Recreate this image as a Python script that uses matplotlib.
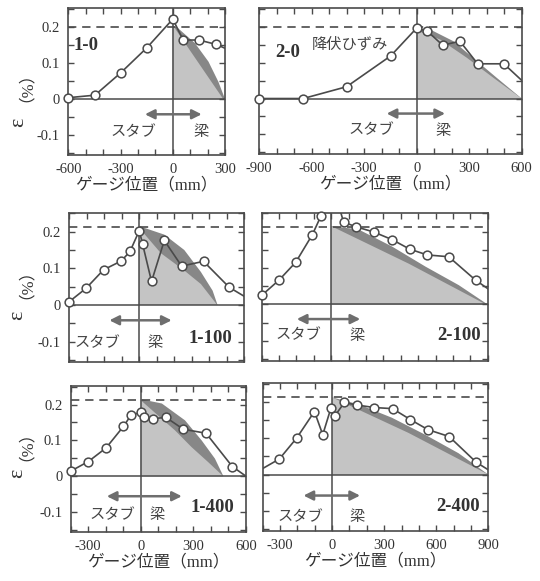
import matplotlib
matplotlib.use('Agg')
import matplotlib.pyplot as plt
from matplotlib.ticker import MultipleLocator, FixedLocator

plt.rcParams['font.family'] = ['Liberation Serif', 'Noto Sans CJK JP']
plt.rcParams['axes.unicode_minus'] = False

# gauge position (mm) and strain (%) for each specimen
pos_1_0 = [-600, -447, -299, -150, 0, 60, 150, 248, 330]
eps_1_0 = [0.004, 0.011, 0.073, 0.142, 0.222, 0.164, 0.164, 0.152, 0.135]

pos_2_0 = [-900, -649, -401, -149, 0, 61, 148, 247, 348, 498, 650]
eps_2_0 = [0.0, 0.0, 0.033, 0.119, 0.197, 0.188, 0.149, 0.16, 0.097, 0.097, 0.028]

pos_1_100 = [-400, -305, -204, -103, -53, 0, 19, 70, 143, 242, 367, 514, 640]
eps_1_100 = [0.009, 0.045, 0.096, 0.12, 0.146, 0.203, 0.166, 0.064, 0.176, 0.106, 0.119, 0.048, 0.012]

pos_2_100 = [-400, -300, -204, -108, -58, 20, 71, 144, 244, 350, 451, 552, 676, 830, 950]
eps_2_100 = [0.025, 0.067, 0.116, 0.192, 0.244, 0.31, 0.226, 0.213, 0.199, 0.178, 0.152, 0.136, 0.131, 0.067, 0.027]

pos_1_400 = [-400, -299, -198, -99, -55, 0, 19, 72, 144, 243, 372, 522, 640]
eps_1_400 = [0.014, 0.041, 0.079, 0.139, 0.171, 0.178, 0.165, 0.161, 0.164, 0.131, 0.12, 0.027, -0.014]

pos_2_400 = [-450, -304, -204, -102, -54, -6, 17, 71, 142, 244, 348, 450, 552, 674, 830, 950]
eps_2_400 = [0.003, 0.043, 0.101, 0.174, 0.11, 0.185, 0.163, 0.199, 0.192, 0.185, 0.182, 0.152, 0.124, 0.105, 0.034, -0.002]

# shaded regions in the beam (light = linear, dark = upper envelope)
light_x_1_0, light_y_1_0 = [0, 290], [0.205, 0.0]
dark_x_1_0, dark_y_1_0 = [0, 32, 128, 205, 262, 300], [0.205, 0.196, 0.155, 0.104, 0.048, 0.0]
light_x_2_0, light_y_2_0 = [0, 133, 286, 438, 600], [0.19, 0.165, 0.114, 0.058, 0.0]
dark_x_2_0, dark_y_2_0 = [0, 76, 210, 343, 457, 600], [0.195, 0.193, 0.16, 0.105, 0.058, 0.0]
light_x_1_100, light_y_1_100 = [0, 124, 257, 352, 445], [0.21, 0.141, 0.094, 0.057, 0.0]
dark_x_1_100, dark_y_1_100 = [0, 143, 257, 352, 419, 447], [0.215, 0.192, 0.15, 0.09, 0.039, 0.0]
light_x_2_100, light_y_2_100 = [0, 446, 890], [0.215, 0.112, 0.0]
dark_x_2_100, dark_y_2_100 = [0, 157, 350, 542, 734, 900], [0.215, 0.206, 0.159, 0.104, 0.053, 0.0]
light_x_1_400, light_y_1_400 = [0, 195, 290, 385, 470], [0.212, 0.128, 0.081, 0.039, 0.0]
dark_x_1_400, dark_y_1_400 = [0, 120, 252, 347, 423, 471], [0.215, 0.203, 0.156, 0.1, 0.049, 0.0]
light_x_2_400, light_y_2_400 = [0, 440, 900], [0.213, 0.115, 0.0]
dark_x_2_400, dark_y_2_400 = [0, 152, 344, 536, 728, 900], [0.213, 0.194, 0.157, 0.11, 0.059, 0.0]

yield_top = 0.2
yield_low = 0.213

ink = '#4a4a4a'
light_col = '#c4c4c4'
dark_col = '#878787'
arrow_col = '#6e6e6e'

fig = plt.figure(figsize=(5.4, 5.81), dpi=100)
YLIM = (-0.155, 0.252)


def panel(rect, xlim, pos, eps, lx, ly, dx, dy, yld, xticks, xlabels=True, ylabels=True):
    ax = fig.add_axes(rect)
    ax.fill(dx + [0], dy + [0], color=dark_col, lw=0, zorder=1)
    ax.fill(lx + [0], ly + [0], color=light_col, lw=0, zorder=1)
    ax.axhline(0, color=ink, lw=1.1, zorder=2)
    ax.axvline(0, color=ink, lw=1.1, zorder=2)
    ax.axhline(yld, color=ink, lw=1.2, ls=(0, (5, 3.5)), zorder=2)
    ax.plot(pos, eps, '-', color=ink, lw=1.2, zorder=3)
    pts = [(p, e) for p, e in zip(pos, eps) if xlim[0] <= p <= xlim[1] and YLIM[0] <= e <= YLIM[1]]
    ax.plot([p for p, e in pts], [e for p, e in pts], 'o', ms=6.3, mfc='white',
            mec=ink, mew=1.1, clip_on=False, zorder=4)
    ax.set_xlim(xlim)
    ax.set_ylim(YLIM)
    ax.xaxis.set_major_locator(FixedLocator(xticks))
    ax.xaxis.set_minor_locator(MultipleLocator(100))
    ax.yaxis.set_major_locator(FixedLocator([-0.1, 0, 0.1, 0.2]))
    ax.yaxis.set_minor_locator(MultipleLocator(0.05))
    ax.set_yticklabels(['-0.1', '0', '0.1', '0.2'])
    ax.tick_params(which='both', direction='in', top=True, right=True, length=4,
                   width=1, color=ink, labelsize=10.5, labelcolor='#333333', pad=6)
    ax.tick_params(labelbottom=xlabels, labelleft=ylabels)
    for s in ax.spines.values():
        s.set_color(ink)
        s.set_linewidth(1.2)
    if xlabels:
        ax.set_xlabel('ゲージ位置（mm）', fontsize=12, color='#333333', labelpad=1)
    return ax


def beam_text(ax, x_arrow, y_arrow, x_stub, x_beam, y_txt):
    ax.annotate('', xy=(x_arrow[1], y_arrow), xytext=(x_arrow[0], y_arrow),
                arrowprops=dict(arrowstyle='<|-|>', color=arrow_col, lw=1.8,
                                mutation_scale=14, shrinkA=0, shrinkB=0), zorder=3)
    ax.text(x_stub, y_txt, 'スタブ', ha='center', va='center', fontsize=11, color='#444444')
    ax.text(x_beam, y_txt, '梁', ha='center', va='center', fontsize=11, color='#444444')


def ylab(ax, x, y_eps, y_pct):
    # ε is drawn larger than the unit, as in the original
    ax.text(x, y_eps, 'ε', rotation=90, fontsize=16, color='#333333',
            ha='center', va='center', transform=ax.transAxes)
    ax.text(x, y_pct, '（%）', rotation=90, fontsize=12, color='#333333',
            ha='center', va='center', transform=ax.transAxes)


# row 1
ax = panel([0.1265, 0.7332, 0.2902, 0.2525], (-600, 300), pos_1_0, eps_1_0,
           light_x_1_0, light_y_1_0, dark_x_1_0, dark_y_1_0, yield_top, [-600, -300, 0, 300])
ax.text(-570, 0.15, '1-0', fontsize=13.5, fontweight='bold', va='center', color='#333333')
beam_text(ax, (-160, 166), -0.042, -228, 165, -0.091)
ylab(ax, -0.32, 0.22, 0.52)

ax = panel([0.4802, 0.7349, 0.4859, 0.2508], (-900, 600), pos_2_0, eps_2_0,
           light_x_2_0, light_y_2_0, dark_x_2_0, dark_y_2_0, yield_top,
           [-900, -600, -300, 0, 300, 600], ylabels=False)
ax.text(-810, 0.128, '2-0', fontsize=13.5, fontweight='bold', va='center', color='#333333')
ax.text(-382, 0.151, '降伏ひずみ', fontsize=11, ha='center', va='center', color='#444444')
beam_text(ax, (-172, 162), -0.042, -257, 149, -0.09)

# row 2
ax = panel([0.1283, 0.3775, 0.3241, 0.2565], (-400, 600), pos_1_100, eps_1_100,
           light_x_1_100, light_y_1_100, dark_x_1_100, dark_y_1_100, yield_low,
           [-300, 0, 300, 600], xlabels=False)
ax.text(533, -0.093, '1-100', fontsize=13.5, fontweight='bold', ha='right', va='center', color='#333333')
beam_text(ax, (-171, 185), -0.042, -238, 91, -0.104)
ylab(ax, -0.293, 0.31, 0.58)

ax = panel([0.4846, 0.3787, 0.4185, 0.2553], (-400, 900), pos_2_100, eps_2_100,
           light_x_2_100, light_y_2_100, dark_x_2_100, dark_y_2_100, yield_low,
           [-300, 0, 300, 600, 900], xlabels=False, ylabels=False)
ax.text(859, -0.086, '2-100', fontsize=13.5, fontweight='bold', ha='right', va='center', color='#333333')
beam_text(ax, (-198, 167), -0.04, -188, 148, -0.086)

# row 3
ax = panel([0.1309, 0.0849, 0.3246, 0.2508], (-400, 600), pos_1_400, eps_1_400,
           light_x_1_400, light_y_1_400, dark_x_1_400, dark_y_1_400, yield_low,
           [-300, 0, 300, 600])
ax.text(533, -0.087, '1-400', fontsize=13.5, fontweight='bold', ha='right', va='center', color='#333333')
beam_text(ax, (-194, 234), -0.056, -165, 91, -0.11)
ylab(ax, -0.30, 0.40, 0.65)

ax = panel([0.4865, 0.0866, 0.4178, 0.2537], (-400, 900), pos_2_400, eps_2_400,
           light_x_2_400, light_y_2_400, dark_x_2_400, dark_y_2_400, yield_low,
           [-300, 0, 300, 600, 900], ylabels=False)
ax.text(853, -0.089, '2-400', fontsize=13.5, fontweight='bold', ha='right', va='center', color='#333333')
beam_text(ax, (-165, 161), -0.058, -184, 142, -0.119)

fig.savefig('out.png', dpi=100)
